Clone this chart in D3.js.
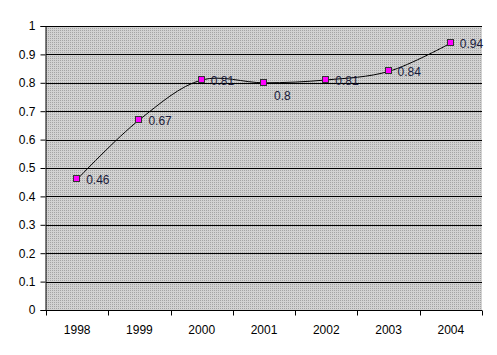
<!DOCTYPE html>
<html>
<head>
<meta charset="utf-8">
<script src="https://cdn.jsdelivr.net/npm/d3@7"></script>
<style>
  body { margin: 0; background: #fff; }
  svg { display: block; font-family: Arial, "Liberation Sans", sans-serif; }
</style>
</head>
<body>
<svg id="chart"></svg>
<script>
// chart data
var years = ['1998', '1999', '2000', '2001', '2002', '2003', '2004'];
var values = [0.46, 0.67, 0.81, 0.8, 0.81, 0.84, 0.94];
var yTicks = [0, 0.1, 0.2, 0.3, 0.4, 0.5, 0.6, 0.7, 0.8, 0.9, 1];

var size = {
  width: 497,
  height: 355,
  margin: {top: 26, right: 15, bottom: 45, left: 46},
};

var render = function(selector, size) {
  var margin = size.margin;
  var width = size.width - margin.left - margin.right;
  var height = size.height - margin.top - margin.bottom;

  var svg = d3.select(selector)
    .attr('width', size.width)
    .attr('height', size.height);

  // dotted grey fill like the original plot area
  var pat = svg.append('defs').append('pattern')
    .attr('id', 'dots')
    .attr('width', 2).attr('height', 2)
    .attr('patternUnits', 'userSpaceOnUse');
  pat.append('rect').attr('width', 2).attr('height', 2).attr('fill', '#d2d2d2');
  pat.append('rect').attr('width', 1).attr('height', 1).attr('fill', '#a4a4a4');

  var x = d3.scaleBand()
    .domain(years)
    .range([0, width]);

  var y = d3.scaleLinear()
    .domain([0, 1])
    .range([height, 0]);

  var chart = svg.append('g')
    .attr('transform', `translate(${ margin.left }, ${ margin.top })`);

  chart.append('rect')
    .attr('width', width)
    .attr('height', height)
    .attr('fill', 'url(#dots)');

  // horizontal grid lines
  chart.selectAll('.grid')
    .data(yTicks.slice(1))
    .enter().append('line')
    .attr('class', 'grid')
    .attr('x1', 0)
    .attr('x2', width)
    .attr('y1', d => Math.round(y(d)) + 0.5)
    .attr('y2', d => Math.round(y(d)) + 0.5)
    .attr('stroke', '#000')
    .attr('stroke-width', 1);

  // y axis
  var yAxis = d3.axisLeft(y)
    .tickValues(yTicks)
    .tickFormat(d3.format('~g'))
    .tickSize(5)
    .tickPadding(5);

  var gy = chart.append('g')
    .attr('class', 'axis y')
    .attr('transform', 'translate(-0.5, 0)')
    .call(yAxis);
  gy.selectAll('text').attr('font-size', 12).attr('fill', '#000');
  gy.select('.domain').attr('stroke', '#000');

  // x axis: ticks sit between categories
  var gx = chart.append('g')
    .attr('class', 'axis x')
    .attr('transform', `translate(0, ${ height + 0.5 })`);
  gx.append('line')
    .attr('x1', -0.5).attr('x2', width)
    .attr('stroke', '#000');
  var bounds = years.map(d => x(d)).concat([width]);
  gx.selectAll('.tick')
    .data(bounds)
    .enter().append('line')
    .attr('x1', d => Math.round(d) + 0.5)
    .attr('x2', d => Math.round(d) + 0.5)
    .attr('y1', 0)
    .attr('y2', 5)
    .attr('stroke', '#000');
  gx.selectAll('text')
    .data(years)
    .enter().append('text')
    .attr('x', d => x(d) + x.bandwidth() / 2)
    .attr('y', 23)
    .attr('text-anchor', 'middle')
    .attr('font-size', 12)
    .attr('fill', '#000')
    .text(d => d);

  var pts = years.map((d, i) => ({year: d, value: values[i]}));
  var cx = d => x(d.year) + x.bandwidth() / 2;

  // smoothed line
  var line = d3.line()
    .x(cx)
    .y(d => y(d.value))
    .curve(d3.curveCatmullRom.alpha(0.5));

  chart.append('path')
    .datum(pts)
    .attr('d', line)
    .attr('fill', 'none')
    .attr('stroke', '#000')
    .attr('stroke-width', 1);

  chart.selectAll('.marker')
    .data(pts)
    .enter().append('rect')
    .attr('class', 'marker')
    .attr('x', d => Math.round(cx(d)) - 3.5)
    .attr('y', d => Math.round(y(d.value)) - 3.5)
    .attr('width', 6)
    .attr('height', 6)
    .attr('fill', '#ff00ff')
    .attr('stroke', '#333')
    .attr('stroke-width', 1);

  // data labels, the 2001 one sits under its marker
  chart.selectAll('.label')
    .data(pts)
    .enter().append('text')
    .attr('class', 'label')
    .attr('x', d => cx(d) + (d.year === '2001' ? 10 : 9))
    .attr('y', d => y(d.value) + (d.year === '2001' ? 17 : 5))
    .attr('font-size', 12)
    .attr('fill', '#1a1a3a')
    .text(d => d.value);
};

render('#chart', size);
</script>
</body>
</html>
